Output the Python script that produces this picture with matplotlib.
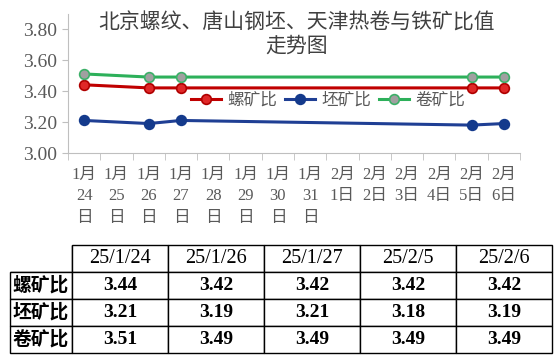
import matplotlib.pyplot as plt

# 横轴日期(类别) 与 数据
categories = ['1月\n24\n日', '1月\n25\n日', '1月\n26\n日', '1月\n27\n日', '1月\n28\n日',
              '1月\n29\n日', '1月\n30\n日', '1月\n31\n日', '2月\n1日', '2月\n2日',
              '2月\n3日', '2月\n4日', '2月\n5日', '2月\n6日']
data_idx = [0, 2, 3, 12, 13]
table_dates = ['25/1/24', '25/1/26', '25/1/27', '25/2/5', '25/2/6']
series_names = ['螺矿比', '坯矿比', '卷矿比']
luo = [3.44, 3.42, 3.42, 3.42, 3.42]
pi = [3.21, 3.19, 3.21, 3.18, 3.19]
juan = [3.51, 3.49, 3.49, 3.49, 3.49]
yticks = [3.00, 3.20, 3.40, 3.60, 3.80]

fonts = ['Liberation Serif', 'Noto Sans CJK SC']
gray = '#595959'
plt.rcParams['font.family'] = fonts

fig = plt.figure(figsize=(5.54, 3.6), dpi=100)
ax = fig.add_axes([68/554, 1-153/360, (520-68)/554, (153-13.5)/360])

styles = [
    dict(color='#C00000', mfc='#E02828', mec='#B00000'),
    dict(color='#1F3F94', mfc='#143A8C', mec='#143A8C'),
    dict(color='#2DB05A', mfc='#A0A0A0', mec='#3CB068'),
]
for vals, name, st in zip([luo, pi, juan], series_names, styles):
    ax.plot(data_idx, vals, '-o', lw=2.2, ms=7, mew=1.2, label=name, **st)

ax.set_xlim(-0.5, len(categories) - 0.5)
ax.set_ylim(3.0, 3.9)
ax.set_yticks(yticks)
ax.set_yticklabels([f'{v:.2f}' for v in yticks])
ax.set_xticks(range(len(categories)))
ax.set_xticklabels(categories)
ax.set_xticks([i - 0.5 for i in range(len(categories) + 1)], minor=True)

for s in ['top', 'right']:
    ax.spines[s].set_visible(False)
for s in ['left', 'bottom']:
    ax.spines[s].set_color('#BFBFBF')
ax.tick_params(axis='y', colors='#BFBFBF', labelcolor=gray, labelsize=14, length=4, pad=4)
ax.tick_params(axis='x', which='major', length=0, labelcolor=gray, labelsize=12, pad=10)
ax.tick_params(axis='x', which='minor', length=5, color='#BFBFBF')
for t in ax.get_xticklabels():
    t.set_linespacing(1.45)
    t.set_verticalalignment('top')

fig.text(297/554, 1-34/360, '北京螺纹、唐山钢坯、天津热卷与铁矿比值\n走势图',
         ha='center', va='center', fontsize=15, color='#404040',
         family='Noto Sans CJK SC', linespacing=1.05)

leg = ax.legend(loc='center', bbox_to_anchor=(328/554, 1-100/360),
                bbox_transform=fig.transFigure, ncol=3, frameon=False,
                prop={'family': 'Noto Sans CJK SC', 'size': 12},
                handlelength=1.8, handletextpad=0.35, columnspacing=0.5)
for t in leg.get_texts():
    t.set_color(gray)

# 数据表
tax = fig.add_axes([10/554, 1-353/360, (552-10)/554, (353-245)/360])
tax.axis('off')
cell_text = [[''] + table_dates]
for name, vals in zip(series_names, [luo, pi, juan]):
    cell_text.append([name] + [f'{v:.2f}' for v in vals])
w0 = 62 / 542
wd = (1 - w0) / 5
tbl = tax.table(cellText=cell_text, cellLoc='center', bbox=[0, 0, 1, 1],
                colWidths=[w0] + [wd] * 5)
tbl.auto_set_font_size(False)
for (r, c), cell in tbl.get_celld().items():
    cell.set_edgecolor('#000000')
    cell.set_linewidth(1.0)
    txt = cell.get_text()
    txt.set_fontsize(14.5 if r == 0 else 14)
    txt.set_family(fonts)
    txt.set_color('#000000')
    if r == 0 and c == 0:
        cell.visible_edges = 'BR'
    if r > 0:
        txt.set_fontweight('bold')
    if c == 0:
        txt.set_family('Noto Sans CJK SC')
        txt.set_fontweight('bold')
        txt.set_fontsize(13.5)
        cell.PAD = 0.02

fig.savefig('out.png', dpi=100)
